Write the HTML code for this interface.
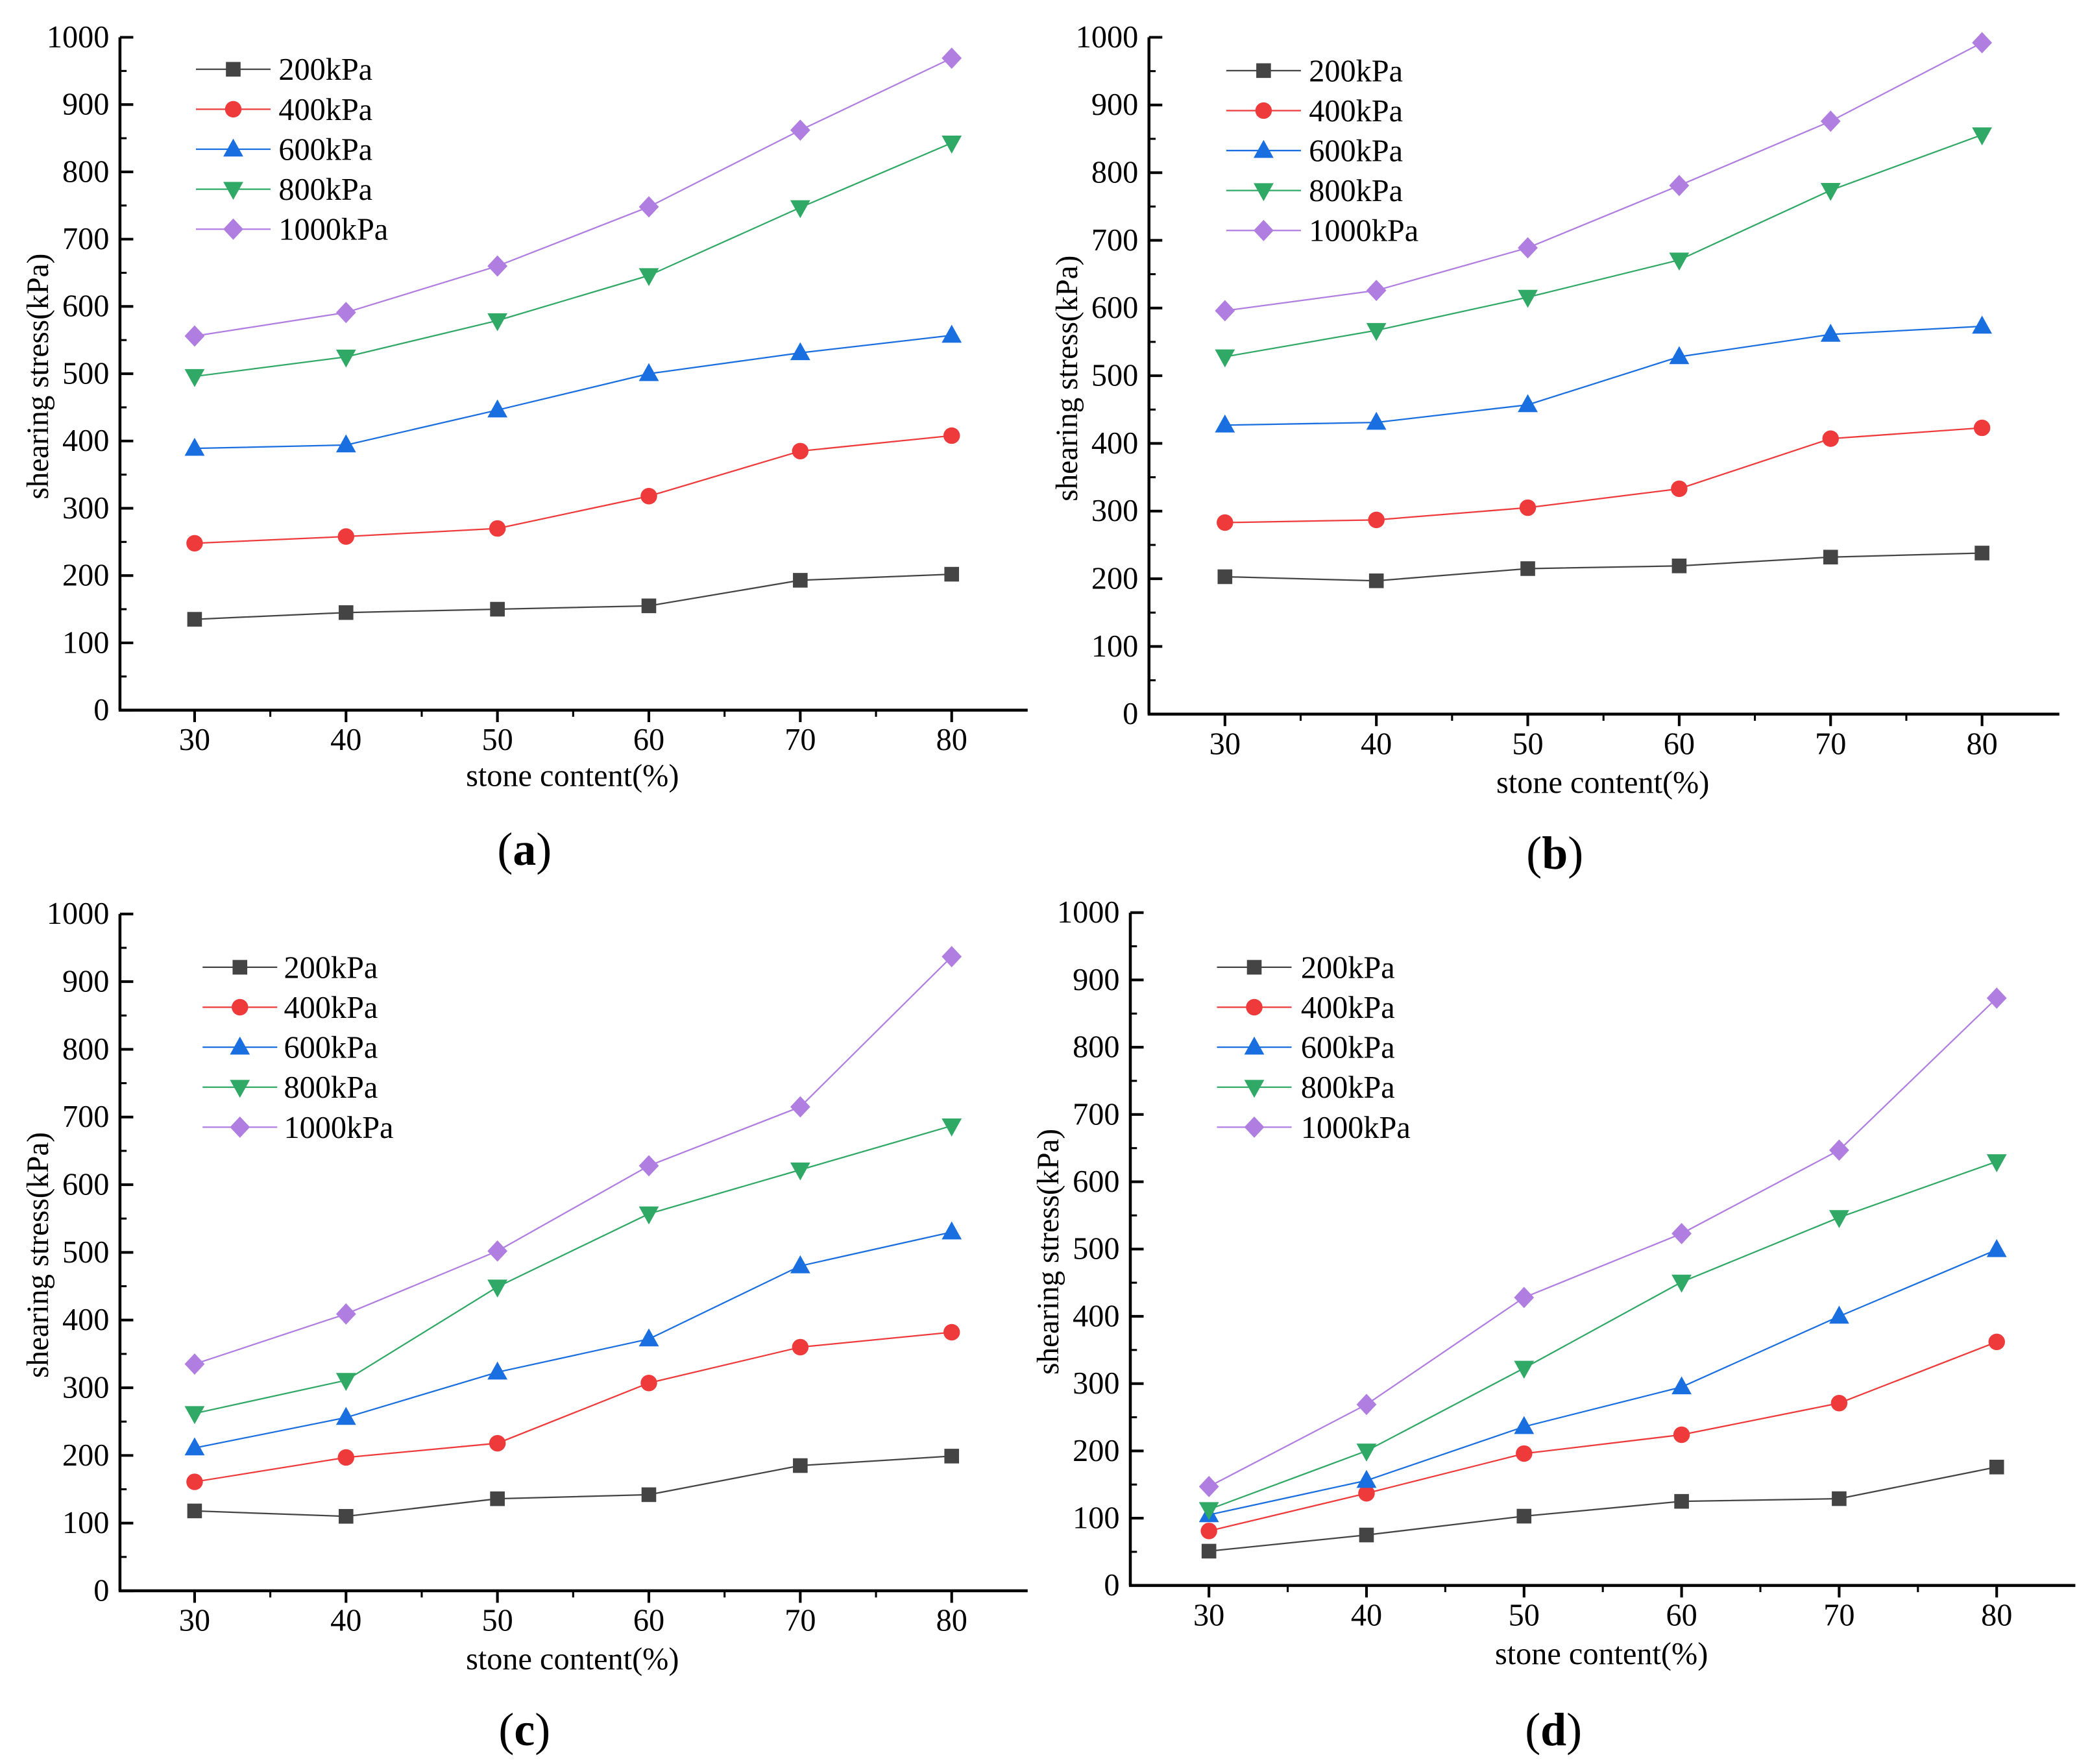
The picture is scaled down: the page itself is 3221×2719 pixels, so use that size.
<!DOCTYPE html>
<html><head><meta charset="utf-8">
<style>
html,body{margin:0;padding:0;background:#fff;}
svg{display:block;}
text{font-family:"Liberation Serif",serif;fill:#000;}
</style></head>
<body>
<svg id="chart" width="3221" height="2719" viewBox="0 0 1568 1324" preserveAspectRatio="none" xmlns="http://www.w3.org/2000/svg">
<rect width="1568" height="1324" fill="#fff"/>
</svg>
<script>
const categories = [30, 40, 50, 60, 70, 80];
const seriesNames = ["200kPa", "400kPa", "600kPa", "800kPa", "1000kPa"];
const yTicks = [0, 100, 200, 300, 400, 500, 600, 700, 800, 900, 1000];
const a200 = [135, 145, 150, 155, 193, 202];
const a400 = [248, 258, 270, 318, 385, 408];
const a600 = [389, 394, 446, 500, 531, 557];
const a800 = [496, 525, 579, 646, 747, 843];
const a1000 = [556, 591, 660, 748, 862, 969];
const b200 = [203, 197, 215, 219, 232, 238];
const b400 = [283, 287, 305, 333, 407, 423];
const b600 = [427, 431, 457, 528, 561, 573];
const b800 = [528, 567, 616, 671, 774, 856];
const b1000 = [596, 626, 689, 781, 876, 992];
const c200 = [118, 110, 136, 142, 185, 199];
const c400 = [161, 197, 218, 307, 360, 382];
const c600 = [211, 256, 323, 372, 480, 530];
const c800 = [262, 311, 449, 557, 622, 687];
const c1000 = [335, 409, 502, 628, 715, 937];
const d200 = [51, 75, 103, 125, 129, 176];
const d400 = [81, 137, 196, 224, 271, 362];
const d600 = [105, 156, 236, 295, 400, 499];
const d800 = [113, 200, 323, 451, 547, 630];
const d1000 = [147, 269, 428, 523, 647, 873];

const colors = ["#444444", "#ee3a3a", "#1a6fe0", "#30a866", "#b07ee0"];
const markers = ["square", "circle", "up", "down", "diamond"];
const NS = "http://www.w3.org/2000/svg";
const svg = document.getElementById("chart");
function mk(tag, attrs, parent) {
  const e = document.createElementNS(NS, tag);
  for (const k in attrs) e.setAttribute(k, attrs[k]);
  parent.appendChild(e);
  return e;
}
function marker(g, type, x, y, color) {
  let m;
  if (type === "square") m = mk("rect", {x: x-5.5, y: y-5.5, width: 11, height: 11, fill: color}, g);
  else if (type === "circle") m = mk("circle", {cx: x, cy: y, r: 6.2, fill: color}, g);
  else if (type === "up") m = mk("polygon", {points: `${x},${y-8} ${x-7.5},${y+5.5} ${x+7.5},${y+5.5}`, fill: color}, g);
  else if (type === "down") m = mk("polygon", {points: `${x},${y+8} ${x-7.5},${y-5.5} ${x+7.5},${y-5.5}`, fill: color}, g);
  else m = mk("polygon", {points: `${x},${y-8} ${x+7.5},${y} ${x},${y+8} ${x-7.5},${y}`, fill: color}, g);
  
  
  return m;
}
const panels = [
  {id:"a", ax:90, top:28, bot:533, x30:146, x80:714, right:771, titleY:583, labY:637, leg:{x1:147, x2:203, tx:209, y0:52}, data:[a200,a400,a600,a800,a1000]},
  {id:"b", ax:862, top:28, bot:536, x30:919, x80:1487, right:1545, titleY:588, labY:640, leg:{x1:920, x2:976, tx:982, y0:53}, data:[b200,b400,b600,b800,b1000]},
  {id:"c", ax:90, top:686, bot:1194, x30:146, x80:714, right:771, titleY:1246, labY:1298, leg:{x1:152, x2:208, tx:213, y0:726}, data:[c200,c400,c600,c800,c1000]},
  {id:"d", ax:848, top:685, bot:1190, x30:907, x80:1498, right:1557, titleY:1242, labY:1298, leg:{x1:913, x2:969, tx:976, y0:726}, data:[d200,d400,d600,d800,d1000]}
];
panels.forEach(p => {
  const g = mk("g", {}, svg);
  
  
  const xs = v => p.x30 + (v - 30) / 50 * (p.x80 - p.x30);
  const ys = v => p.bot - v / 1000 * (p.bot - p.top);
  const ya = mk("line", {x1:p.ax, y1:p.top, x2:p.ax, y2:p.bot, stroke:"#000", "stroke-width":2.2}, g);
  
  
  const xa = mk("line", {x1:p.ax-1, y1:p.bot, x2:p.right, y2:p.bot, stroke:"#000", "stroke-width":2.2}, g);
  
  
  yTicks.forEach((t, i) => {
    const y = ys(t);
    mk("line", {x1:p.ax, y1:y, x2:p.ax+10, y2:y, stroke:"#000", "stroke-width":2}, g);
    if (i < yTicks.length - 1) mk("line", {x1:p.ax, y1:ys(t+50), x2:p.ax+5, y2:ys(t+50), stroke:"#000", "stroke-width":1.5}, g);
    const tl = mk("text", {x:p.ax-8, y:y+7.5, "font-size":23.5, "text-anchor":"end"}, g);
    tl.textContent = t;
    
    
  });
  categories.forEach(c => {
    const x = xs(c);
    mk("line", {x1:x, y1:p.bot, x2:x, y2:p.bot+9, stroke:"#000", "stroke-width":2}, g);
    if (c < 80) mk("line", {x1:xs(c+5), y1:p.bot, x2:xs(c+5), y2:p.bot+5, stroke:"#000", "stroke-width":1.5}, g);
    const tl = mk("text", {x:x, y:p.bot+30, "font-size":23.5, "text-anchor":"middle"}, g);
    tl.textContent = c;
    
    
  });
  const xt = mk("text", {x:(p.ax+p.right)/2-1, y:p.titleY+7, "font-size":23.5, "text-anchor":"middle"}, g);
  xt.textContent = "stone content(%)";
  
  
  const cy = (p.top + p.bot) / 2 + 2;
  const yt = mk("text", {x:0, y:0, "font-size":23, "text-anchor":"middle", transform:`translate(${p.ax-54},${cy}) rotate(-90)`}, g);
  yt.textContent = "shearing stress(kPa)";
  
  
  const lab = mk("text", {x:(p.ax+p.right)/2-37, y:p.labY+12, "font-size":35, "text-anchor":"middle"}, g);
  lab.innerHTML = '(<tspan font-weight="bold">' + p.id + '</tspan>)';
  
  
  p.data.forEach((arr, si) => {
    const sg = mk("g", {}, g);
    
    
    const pts = arr.map((v, i) => xs(categories[i]) + "," + ys(v)).join(" ");
    const pl = mk("polyline", {points:pts, fill:"none", stroke:colors[si], "stroke-width":1.1}, sg);
    
    
    arr.forEach((v, i) => marker(sg, markers[si], xs(categories[i]), ys(v), colors[si]));
    const ly = p.leg.y0 + si * 30;
    const lg = mk("g", {}, g);
    
    
    mk("line", {x1:p.leg.x1, y1:ly, x2:p.leg.x2, y2:ly, stroke:colors[si], "stroke-width":1.1}, lg);
    marker(lg, markers[si], (p.leg.x1+p.leg.x2)/2, ly, colors[si]);
    const lt = mk("text", {x:p.leg.tx, y:ly+8, "font-size":23.5}, lg);
    lt.textContent = seriesNames[si];
    
    
  });
});
</script>
</body></html>
